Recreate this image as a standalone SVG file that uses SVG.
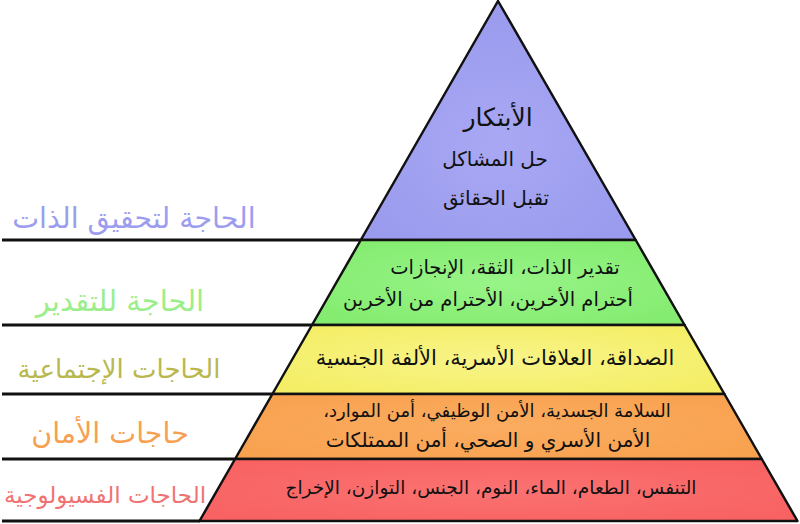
<svg xmlns="http://www.w3.org/2000/svg" width="800" height="524" viewBox="0 0 800 524">
<style>
.band{stroke:#111;stroke-width:2.5;stroke-linejoin:round}
.t{font-family:"DejaVu Sans",sans-serif;fill:#111;text-anchor:middle;direction:rtl}
.lab{font-family:"DejaVu Sans",sans-serif;text-anchor:middle;direction:rtl}
.ln{stroke:#111;stroke-width:3}
</style>
<defs>
<radialGradient id="gP" cx="0.5" cy="0.6" r="0.6"><stop offset="0" stop-color="#a8a8f4"/><stop offset="1" stop-color="#9a9aee"/></radialGradient>
<radialGradient id="gG" cx="0.5" cy="0.5" r="0.6"><stop offset="0" stop-color="#98f488"/><stop offset="1" stop-color="#84ec70"/></radialGradient>
<radialGradient id="gY" cx="0.5" cy="0.5" r="0.6"><stop offset="0" stop-color="#f8f488"/><stop offset="1" stop-color="#f4ee66"/></radialGradient>
<radialGradient id="gO" cx="0.5" cy="0.5" r="0.6"><stop offset="0" stop-color="#fbac60"/><stop offset="1" stop-color="#f8a250"/></radialGradient>
<radialGradient id="gR" cx="0.5" cy="0.5" r="0.6"><stop offset="0" stop-color="#fb7272"/><stop offset="1" stop-color="#f86262"/></radialGradient>
</defs>
<rect width="800" height="524" fill="#fff"/>
<g id="connectors">
<line class="ln" x1="2" y1="240" x2="361" y2="240"/>
<line class="ln" x1="2" y1="325" x2="312" y2="325"/>
<line class="ln" x1="2" y1="394" x2="272" y2="394"/>
<line class="ln" x1="2" y1="459" x2="235" y2="459"/>
<line class="ln" x1="2" y1="521" x2="200" y2="521"/>
</g>
<g id="band-self">
<polygon class="band" fill="url(#gP)" points="498,1 635.7,240 360.8,240"/>
<text class="t" font-size="25" x="498" y="126">الأبتكار</text>
<text class="t" font-size="20" x="495" y="166">حل المشاكل</text>
<text class="t" font-size="20" x="496" y="205">تقبل الحقائق</text>
</g>
<g id="band-esteem">
<polygon class="band" fill="url(#gG)" points="360.8,240 635.7,240 684.6,325 312,325"/>
<text class="t" font-size="19.5" x="505" y="274">تقدير الذات، الثقة، الإنجازات</text>
<text class="t" font-size="19.5" x="488" y="306">أحترام الأخرين، الأحترام من الأخرين</text>
</g>
<g id="band-social">
<polygon class="band" fill="url(#gY)" points="312,325 684.6,325 724.4,394 272.4,394"/>
<text class="t" font-size="21" x="495" y="365">الصداقة، العلاقات الأسرية، الألفة الجنسية</text>
</g>
<g id="band-safety">
<polygon class="band" fill="url(#gO)" points="272.4,394 724.4,394 761.8,459 235.1,459"/>
<text class="t" font-size="18" x="497" y="417">السلامة الجسدية، الأمن الوظيفي، أمن الموارد،</text>
<text class="t" font-size="20" x="488" y="447">الأمن الأسري و الصحي، أمن الممتلكات</text>
</g>
<g id="band-physio">
<polygon class="band" fill="url(#gR)" points="235.1,459 761.8,459 797.5,521 199.5,521"/>
<text class="t" font-size="18.5" x="491" y="494">التنفس، الطعام، الماء، النوم، الجنس، التوازن، الإخراج</text>
</g>
<g id="label-self"><text class="lab" font-size="28.5" x="134" y="228" fill="#9d9df0">الحاجة لتحقيق الذات</text></g>
<g id="label-esteem"><text class="lab" font-size="29" x="120" y="311" fill="#9cee8c">الحاجة للتقدير</text></g>
<g id="label-social"><text class="lab" font-size="26" x="119" y="378" fill="#b8b84e">الحاجات الإجتماعية</text></g>
<g id="label-safety"><text class="lab" font-size="28.5" x="110" y="443" fill="#f8a052">حاجات الأمان</text></g>
<g id="label-physio"><text class="lab" font-size="23" x="105" y="503" fill="#f07272">الحاجات الفسيولوجية</text></g>
</svg>
